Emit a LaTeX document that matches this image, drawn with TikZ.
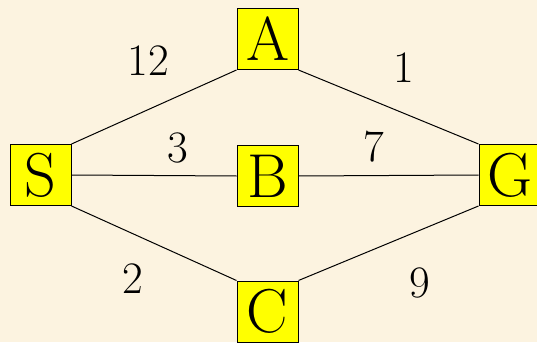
\documentclass[tikz,border=0pt]{standalone}
\usepackage{tikz}
\definecolor{parchment}{RGB}{252,243,224}
\definecolor{boxyellow}{RGB}{255,255,0}

\begin{document}
\begin{tikzpicture}[x=1pt, y=-1pt,
  state/.style={draw=black, line width=1pt, fill=boxyellow, minimum width=61pt, minimum height=61pt, inner sep=0pt, font=\fontsize{62}{62}\selectfont},
  cost/.style={font=\fontsize{45}{45}\selectfont, inner sep=0pt}]
\fill[parchment] (0,0) rectangle (537,342);
\useasboundingbox (0,0) rectangle (537,342);

% States
\node[state] (S) at (40.5,175) {S};
\node[state] (A) at (267.5,39) {A};
\node[state] (B) at (267.5,176) {B};
\node[state] (C) at (267.5,311.5) {C};
\node[state] (G) at (509.5,175) {G};

% Edges (corner to corner)
\draw[line width=1pt] (S.north east) -- (A.south west);
\draw[line width=1pt] (S.east) -- (B.west);
\draw[line width=1pt] (S.south east) -- (C.north west);
\draw[line width=1pt] (A.south east) -- (G.north west);
\draw[line width=1pt] (B.east) -- (G.west);
\draw[line width=1pt] (C.north east) -- (G.south west);

% Costs
\node[cost] (w12) at (148,61) {12};
\node[cost] (w1) at (404,68) {1};
\node[cost] (w3) at (178,148) {3};
\node[cost] (w7) at (374,147) {7};
\node[cost] (w2) at (133,279) {2};
\node[cost] (w9) at (420,283) {9};
\end{tikzpicture}
\end{document}
